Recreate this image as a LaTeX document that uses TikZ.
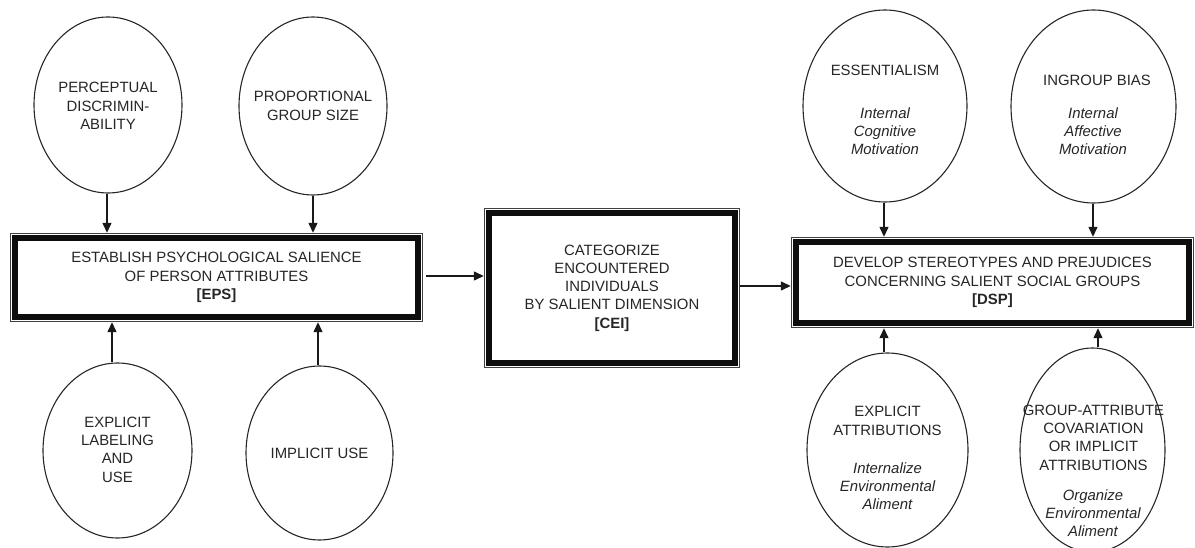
\documentclass[tikz,border=0pt]{standalone}
\usepackage{fontspec}
\setmainfont{Liberation Sans}
\usetikzlibrary{arrows.meta,shapes.geometric}
\begin{document}
\begin{tikzpicture}[x=1pt,y=-1pt,
  txt/.style={align=center,text=black!85,font=\fontsize{14.9}{18.3}\selectfont,inner sep=0pt},
  oval/.style={ellipse,draw=black!85,line width=1.1pt,inner sep=0pt},
  boxnode/.style={rectangle,inner sep=0pt,align=center,text=black!85,font=\fontsize{14.9}{18.3}\selectfont},
  arr/.style={draw=black!90,line width=1.3pt,-{Triangle[length=10pt,width=9pt]}}
]
\useasboundingbox (0,0) rectangle (1195,548);

% boxes
\node[boxnode,minimum width=413pt,minimum height=89pt] (eps) at (216.5,277.5)
  {ESTABLISH PSYCHOLOGICAL SALIENCE\\OF PERSON ATTRIBUTES\\\textbf{[EPS]}};
\node[boxnode,minimum width=256pt,minimum height=160pt] (cei) at (612,288)
  {CATEGORIZE\\ENCOUNTERED\\INDIVIDUALS\\BY SALIENT DIMENSION\\\textbf{[CEI]}};
\node[boxnode,minimum width=403pt,minimum height=91pt] (dsp) at (992.5,282.5)
  {DEVELOP STEREOTYPES AND PREJUDICES\\CONCERNING SALIENT SOCIAL GROUPS\\\textbf{[DSP]}};
\foreach \b in {eps,cei,dsp}{
  \draw[black!75,line width=1.5pt] ([shift={(0.75pt,-0.75pt)}]\b.north west) rectangle ([shift={(-0.75pt,0.75pt)}]\b.south east);
  \draw[black!95,line width=5.5pt] ([shift={(5.3pt,-5.3pt)}]\b.north west) rectangle ([shift={(-5.3pt,5.3pt)}]\b.south east);
}

% ellipses
\node[oval,minimum width=148pt,minimum height=176pt] (e1) at (108,105) {};
\node[oval,minimum width=148pt,minimum height=178pt] (e2) at (313,106) {};
\node[oval,minimum width=149pt,minimum height=175pt] (e3) at (117.5,450.5) {};
\node[oval,minimum width=147pt,minimum height=174pt] (e4) at (319.5,453) {};
\node[oval,minimum width=164pt,minimum height=192pt] (e5) at (885,106) {};
\node[oval,minimum width=165pt,minimum height=193pt] (e6) at (1093.5,106.5) {};
\node[oval,minimum width=161pt,minimum height=194pt] (e7) at (887.5,450) {};
\node[oval,minimum width=145pt,minimum height=204pt] (e8) at (1092.5,450) {};

% ellipse texts
\node[txt] (t1) at (108,106) {PERCEPTUAL\\DISCRIMIN-\\ABILITY};
\node[txt] (t2) at (313,106) {PROPORTIONAL\\GROUP SIZE};
\node[txt] (t3) at (117.5,449.5) {EXPLICIT\\LABELING\\AND\\USE};
\node[txt] (t4) at (319.5,453) {IMPLICIT USE};
\node[txt] (t5a) at (885,70) {ESSENTIALISM};
\node[txt] (t5b) at (885,131) {\itshape Internal\\\itshape Cognitive\\\itshape Motivation};
\node[txt] (t6a) at (1097,80) {INGROUP BIAS};
\node[txt] (t6b) at (1093,131) {\itshape Internal\\\itshape Affective\\\itshape Motivation};
\node[txt] (t7a) at (887.5,421) {EXPLICIT\\ATTRIBUTIONS};
\node[txt] (t7b) at (887.5,486) {\itshape Internalize\\\itshape Environmental\\\itshape Aliment};
\node[txt] (t8a) at (1093.5,437.5) {GROUP-ATTRIBUTE\\COVARIATION\\OR IMPLICIT\\ATTRIBUTIONS};
\node[txt] (t8b) at (1093,513) {\itshape Organize\\\itshape Environmental\\\itshape Aliment};

% connectors
\draw[arr] ([xshift=-1pt]e1.south) -- ([xshift=-1pt]e1.south |- eps.north);
\draw[arr] (e2.south) -- (e2.south |- eps.north);
\draw[arr] ([xshift=-5.5pt]e3.north) -- ([xshift=-5.5pt]e3.north |- eps.south);
\draw[arr] ([xshift=-1.5pt]e4.north) -- ([xshift=-1.5pt]e4.north |- eps.south);
\draw[arr] ([xshift=-1pt]e5.south) -- ([xshift=-1pt]e5.south |- dsp.north);
\draw[arr] ([xshift=-0.5pt]e6.south) -- ([xshift=-0.5pt]e6.south |- dsp.north);
\draw[arr] ([xshift=-3.5pt]e7.north) -- ([xshift=-3.5pt]e7.north |- dsp.south);
\draw[arr] ([xshift=5.5pt]e8.north) -- ([xshift=5.5pt]e8.north |- dsp.south);
\draw[arr] ([xshift=3pt,yshift=1.5pt]eps.east) -- ([yshift=1.5pt]eps.east -| cei.west);
\draw[arr] ([yshift=-3.5pt]dsp.west -| cei.east) -- ([yshift=-3.5pt]dsp.west);
\end{tikzpicture}
\end{document}
